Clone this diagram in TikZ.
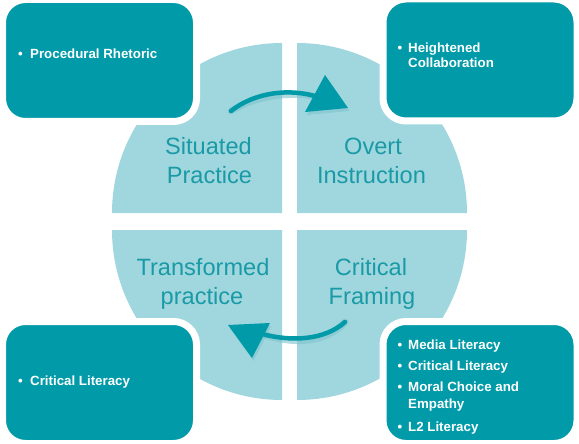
\documentclass[tikz,border=0pt]{standalone}
\usepackage{fontspec}
\setmainfont{Liberation Sans}
\definecolor{quad}{HTML}{A0D7DE}
\definecolor{boxc}{HTML}{009AA8}
\definecolor{qtext}{HTML}{1A9AA6}
\definecolor{shade}{HTML}{7FC3CC}
\newcommand\lbul[1]{\makebox[12pt][l]{\textbullet}#1}
\newcommand\rbul[1]{\makebox[10.5pt][l]{\textbullet}#1}
\begin{document}
\begin{tikzpicture}[x=1pt,y=-1pt,
  quadrant/.style={fill=quad},
  infobox/.style={rectangle, rounded corners=23pt, fill=boxc, draw=white, line width=7pt, minimum width=194pt, minimum height=122pt, inner sep=0pt},
  qlabel/.style={text=qtext, font=\fontsize{23.6}{28}\selectfont, anchor=base, inner sep=0pt},
  item/.style={text=white, font=\bfseries\fontsize{13.3}{15}\selectfont, anchor=base west, inner sep=0pt},
  cyc/.style={draw=boxc, line width=4.5pt, line cap=round},
  cycshadow/.style={draw=shade, line width=7pt, line cap=round, opacity=0.6},
  head/.style={fill=boxc},
  headshadow/.style={fill=shade, opacity=0.6}]
\useasboundingbox (0,0) rectangle (579,444);
% quadrants
\fill[quadrant] (282,213) -- (282,43) arc[start angle=-90, end angle=-180, radius=170] -- cycle;
\fill[quadrant] (297,213) -- (297,43) arc[start angle=-90, end angle=0, radius=170] -- cycle;
\fill[quadrant] (282,230) -- (112,230) arc[start angle=180, end angle=90, radius=170] -- cycle;
\fill[quadrant] (297,230) -- (467,230) arc[start angle=0, end angle=90, radius=170] -- cycle;
% quadrant labels
\node[qlabel] (sit1) at (208.5,154) {Situated};
\node[qlabel] (sit2) at (209.5,183) {Practice};
\node[qlabel] (ov1) at (373,154) {Overt};
\node[qlabel] (ov2) at (371.5,183) {Instruction};
\node[qlabel] (tr1) at (203,275) {Transformed};
\node[qlabel] (tr2) at (202,304) {practice};
\node[qlabel] (cf1) at (371,275) {Critical};
\node[qlabel] (cf2) at (372,304) {Framing};
% cycle arrows
\coordinate (a1s) at (231,111);
\coordinate (a1e) at (318,97);
\begin{scope}[shift={(1.5,3)}]
\draw[cycshadow] (a1s) .. controls (255,92) and (290,88) .. (a1e);
\fill[headshadow] (325,75) -- (348,108) -- (305,112) -- cycle;
\end{scope}
\draw[cyc] (a1s) .. controls (255,92) and (290,88) .. (a1e);
\fill[head] (325,75) -- (348,108) -- (305,112) -- cycle;
\coordinate (a2s) at (345,322);
\coordinate (a2e) at (262,334);
\begin{scope}[shift={(1.5,3)}]
\draw[cycshadow] (a2s) .. controls (325,340) and (292,342) .. (a2e);
\fill[headshadow] (228,325) -- (270,323) -- (252,358) -- cycle;
\end{scope}
\draw[cyc] (a2s) .. controls (325,340) and (292,342) .. (a2e);
\fill[head] (228,325) -- (270,323) -- (252,358) -- cycle;
% boxes
\node[infobox] (btl) at (99.5,60.5) {};
\node[infobox] (btr) at (480,60) {};
\node[infobox] (bbl) at (99.5,382.5) {};
\node[infobox] (bbr) at (480,382.5) {};
% box texts
\node[item] (t1) at (18,59) {\lbul{Procedural Rhetoric}};
\node[item] (t2) at (397.5,53) {\rbul{Heightened}};
\node[item] (t2b) at (408,68) {Collaboration};
\node[item] (t3) at (18,385) {\lbul{Critical Literacy}};
\node[item] (t4) at (397.5,349) {\rbul{Media Literacy}};
\node[item] (t5) at (397.5,370) {\rbul{Critical Literacy}};
\node[item] (t6) at (397.5,391) {\rbul{Moral Choice and}};
\node[item] (t6b) at (408,408) {Empathy};
\node[item] (t7) at (397.5,431) {\rbul{L2 Literacy}};
\end{tikzpicture}
\end{document}
